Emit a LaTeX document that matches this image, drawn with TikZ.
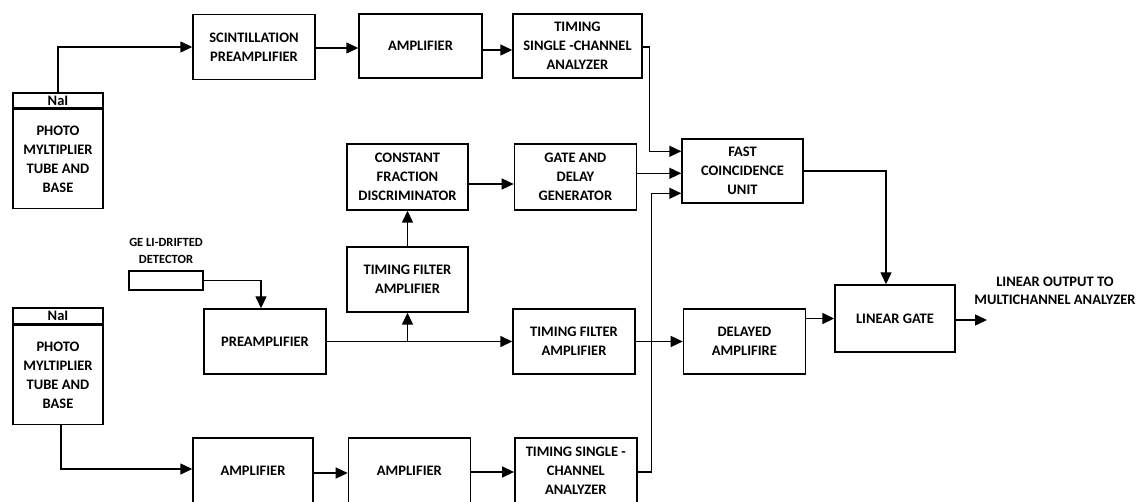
\documentclass[tikz,border=0pt]{standalone}
\usepackage{fontspec}
\setmainfont{Carlito}
\usetikzlibrary{arrows.meta, positioning, calc}

\begin{document}
\begin{tikzpicture}[x=1pt, y=-1pt,
  box/.style={rectangle, draw=black, line width=1.4pt, minimum width=122pt,
              minimum height=65pt, align=center, inner sep=2pt,
              font=\fontsize{14.5}{19}\selectfont\bfseries},
  head/.style={box, minimum width=90pt, minimum height=15pt, inner sep=0pt},
  tube/.style={box, minimum width=90pt, minimum height=99pt},
  det/.style={rectangle, draw=black, line width=1.4pt, minimum width=74pt,
              minimum height=19pt, inner sep=0pt},
  lbl/.style={align=center, font=\fontsize{14.5}{18}\selectfont\bfseries},
  arrow/.style={-{Triangle[length=12pt, width=11pt]}, line width=1.4pt}
]
\clip (0,0) rectangle (1140,502);
\useasboundingbox (0,0) rectangle (1140,502);
% upper scintillator branch
\node (nai1)  [head] at (58,100.5)                 {NaI};
\node (pmt1)  [tube, below=0pt of nai1]            {PHOTO\\MYLTIPLIER\\TUBE AND\\BASE};
\node (scint) [box] at (254,47)                    {SCINTILLATION\\PREAMPLIFIER};
\node (amp1)  [box, minimum width=123pt, minimum height=64pt] at (420.5,46) {AMPLIFIER};
\node (tsca1) [box, minimum width=129pt, minimum height=64pt] at (577.5,46) {TIMING\\SINGLE -CHANNEL\\ANALYZER};
% germanium detector branch
\node (cfd)   [box, minimum width=121pt, minimum height=66pt] at (407.5,177) {CONSTANT\\FRACTION\\DISCRIMINATOR};
\node (gdg)   [box, minimum height=66pt, right=45pt of cfd] {GATE AND\\DELAY\\GENERATOR};
\node (fcu)   [box, minimum width=121pt, minimum height=64pt] at (742.5,171) {FAST\\COINCIDENCE\\UNIT};
\node (tfa1)  [box, minimum width=121pt] at (407.5,279.5) {TIMING FILTER\\AMPLIFIER};
\node (ge)    [det] at (166,280.5) {};
\node (gelbl) [lbl, font=\fontsize{12.5}{17}\selectfont\bfseries, above=3pt of ge] {GE LI-DRIFTED\\DETECTOR};
\node (pre)   [box] at (265,341.5)                 {PREAMPLIFIER};
\node (tfa2)  [box] at (574,341.5)                 {TIMING FILTER\\AMPLIFIER};
\node (dly)   [box, right=47pt of tfa2]            {DELAYED\\AMPLIFIRE};
\node (lg)    [box, minimum width=120pt, minimum height=67pt] at (895,318.5) {LINEAR GATE};
\node (outlbl) [lbl] at (1055,291)                 {LINEAR OUTPUT TO\\MULTICHANNEL ANALYZER};
% lower scintillator branch
\node (nai2)  [head, minimum height=16pt] at (58,316) {NaI};
\node (pmt2)  [tube, below=0pt of nai2]            {PHOTO\\MYLTIPLIER\\TUBE AND\\BASE};
\node (bamp1) [box, minimum width=120pt, minimum height=66pt] at (253,471) {AMPLIFIER};
\node (bamp2) [box, minimum height=66pt, right=34pt of bamp1] {AMPLIFIER};
\node (tsca2) [box, minimum height=66pt, right=43pt of bamp2] {TIMING SINGLE -\\CHANNEL\\ANALYZER};
% coincidence inputs and output point
\coordinate (in1) at ($(fcu.north west)+(0,13)$);
\coordinate (in2) at ($(fcu.north west)+(0,35)$);
\coordinate (in3) at ($(fcu.north west)+(0,55)$);
\coordinate (out) at (987,320);
\coordinate (br)  at (tfa1.south |- pre.east);

\draw [arrow] (nai1.north) |- (scint.west);
\draw [arrow] ($(scint.east)+(0,1)$) -- ($(amp1.west)+(0,2)$);
\draw [arrow] ($(amp1.east)+(0,4)$) -- ($(tsca1.west)+(0,4)$);
\draw [arrow] ($(tsca1.east)+(0,1)$) -- ++(7,0) |- (in1);
\draw [arrow] ($(cfd.east)+(0,7)$) -- ($(gdg.west)+(0,7)$);
\draw [arrow] (gdg.east |- in2) -- (in2);
\draw [arrow] (tfa1.north) -- (cfd.south);
\draw [arrow] (ge.east) -| ($(pre.north)+(-4,0)$);
\draw [arrow] (pre.east) -- (tfa2.west);
\draw [arrow] (br) -- (tfa1.south);
\draw [arrow] (tfa2.east) -- (dly.west);
\draw [arrow] (dly.east |- lg.west) -- (lg.west);
\draw [arrow] (fcu.east) -| ($(lg.north)+(-9,0)$);
\draw [arrow] ($(lg.east)+(0,1.5)$) -- (out);
\draw [arrow] ($(pmt2.south)+(3,0)$) |- ($(bamp1.west)+(0,-2)$);
\draw [arrow] ($(bamp1.east)+(0,2)$) -- ($(bamp2.west)+(0,2)$);
\draw [arrow] ($(bamp2.east)+(0,1)$) -- ($(tsca2.west)+(0,1)$);
\draw [arrow] ($(tsca2.east)+(0,1)$) -- ++(14,0) |- (in3);
\end{tikzpicture}
\end{document}
